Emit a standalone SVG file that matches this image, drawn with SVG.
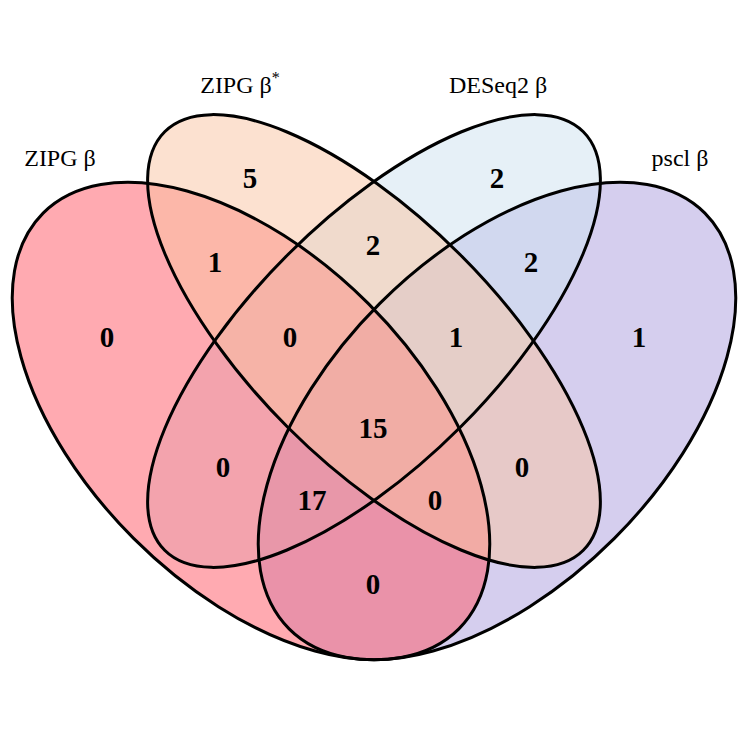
<svg xmlns="http://www.w3.org/2000/svg" width="747" height="747" viewBox="0 0 747 747">
<style>
.e{stroke:none;fill-opacity:0.5}
.o{fill:none;stroke:#000;stroke-width:3}
.n{font-family:"Liberation Serif",serif;font-weight:bold;font-size:29px;text-anchor:middle}
.t{font-family:"Liberation Serif",serif;font-size:24px;text-anchor:middle}
</style>
<rect width="747" height="747" fill="#fff"/>
<g id="fills">
<ellipse class="e" cx="497" cy="421" rx="294" ry="166" transform="rotate(-45 497 421)" fill="#AB9DDD"/>
<ellipse class="e" cx="374" cy="341" rx="296" ry="122" transform="rotate(-45 374 341)" fill="#CDE1EF"/>
<ellipse class="e" cx="251" cy="421" rx="294" ry="166" transform="rotate(45 251 421)" fill="#FF5563"/>
<ellipse class="e" cx="374" cy="341" rx="296" ry="122" transform="rotate(45 374 341)" fill="#F9C3A1"/>
</g>
<g id="zipg"><ellipse class="o" cx="251" cy="421" rx="294" ry="166" transform="rotate(45 251 421)"/><text class="t" x="60" y="166">ZIPG β</text></g>
<g id="zipgstar"><ellipse class="o" cx="374" cy="341" rx="296" ry="122" transform="rotate(45 374 341)"/><text class="t" x="240" y="93">ZIPG β<tspan font-size="16" dy="-10">*</tspan></text></g>
<g id="deseq"><ellipse class="o" cx="374" cy="341" rx="296" ry="122" transform="rotate(-45 374 341)"/><text class="t" x="498" y="93">DESeq2 β</text></g>
<g id="pscl"><ellipse class="o" cx="497" cy="421" rx="294" ry="166" transform="rotate(-45 497 421)"/><text class="t" x="680" y="166">pscl β</text></g>
<g id="counts">
<text class="n" x="107" y="347">0</text>
<text class="n" x="250" y="188">5</text>
<text class="n" x="215" y="272">1</text>
<text class="n" x="373" y="255">2</text>
<text class="n" x="497" y="188">2</text>
<text class="n" x="531" y="272">2</text>
<text class="n" x="290" y="347">0</text>
<text class="n" x="456" y="347">1</text>
<text class="n" x="639" y="347">1</text>
<text class="n" x="373" y="438">15</text>
<text class="n" x="223" y="477">0</text>
<text class="n" x="522" y="477">0</text>
<text class="n" x="312" y="510">17</text>
<text class="n" x="435" y="510">0</text>
<text class="n" x="373" y="594">0</text>
</g>
</svg>
